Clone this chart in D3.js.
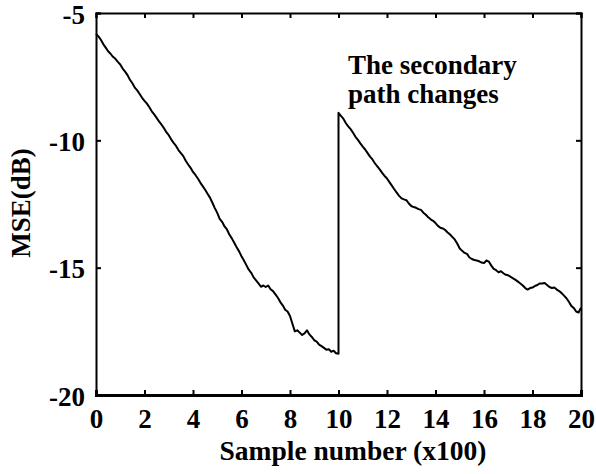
<!DOCTYPE html>
<html>
<head>
<meta charset="utf-8">
<script src="https://cdn.jsdelivr.net/npm/d3@7"></script>
<style>
  html, body { margin: 0; padding: 0; background: #fff; }
  svg { display: block; }
  text { font-family: "Liberation Serif", "Times New Roman", serif; font-weight: bold; fill: #000; }
</style>
</head>
<body>
<svg id="chart" width="596" height="474"></svg>
<script>
// ---- data (sample number in hundreds, MSE in dB) ----
const samples1 = [0.0,0.1,0.2,0.3,0.4,0.5,0.6,0.7,0.8,0.9,1.0,1.1,1.2,1.3,1.4,1.5,1.6,1.7,1.8,1.9,
  2.0,2.1,2.2,2.3,2.4,2.5,2.6,2.7,2.8,2.9,3.0,3.1,3.2,3.3,3.4,3.5,3.6,3.7,3.8,3.9,
  4.0,4.1,4.2,4.3,4.4,4.5,4.6,4.7,4.8,4.9,5.0,5.1,5.2,5.3,5.4,5.5,5.6,5.7,5.8,5.9,
  6.0,6.1,6.2,6.3,6.4,6.5,6.6,6.7,6.8,6.9,7.0,7.1,7.2,7.3,7.4,7.5,7.6,7.7,7.8,7.9,
  8.0,8.1,8.2,8.3,8.4,8.5,8.6,8.7,8.8,8.9,9.0,9.1,9.2,9.3,9.4,9.5,9.6,9.7,9.8,9.9,10.0];
const mse1 = [-5.82,-5.92,-6.05,-6.22,-6.36,-6.50,-6.60,-6.72,-6.80,-6.92,-7.02,-7.18,-7.30,-7.44,-7.62,-7.76,-7.93,-8.04,-8.18,-8.33,
  -8.45,-8.56,-8.70,-8.86,-8.98,-9.12,-9.26,-9.38,-9.52,-9.68,-9.80,-9.96,-10.10,-10.22,-10.38,-10.50,-10.62,-10.80,-10.95,-11.08,
  -11.24,-11.36,-11.50,-11.66,-11.80,-11.94,-12.10,-12.25,-12.45,-12.66,-12.85,-13.08,-13.20,-13.38,-13.50,-13.70,-13.85,-14.02,-14.20,-14.36,
  -14.55,-14.72,-14.90,-15.08,-15.20,-15.38,-15.50,-15.62,-15.75,-15.70,-15.76,-15.70,-15.85,-15.92,-16.05,-16.18,-16.35,-16.48,-16.65,-16.72,
  -16.90,-17.20,-17.50,-17.46,-17.55,-17.64,-17.58,-17.46,-17.62,-17.72,-17.85,-17.90,-18.02,-18.08,-18.15,-18.22,-18.20,-18.30,-18.26,-18.36,-18.38];
const samples2 = [10.0,10.1,10.2,10.3,10.4,10.5,10.6,10.7,10.8,10.9,11.0,11.1,11.2,11.3,11.4,11.5,11.6,11.7,11.8,11.9,
  12.0,12.1,12.2,12.3,12.4,12.5,12.6,12.7,12.8,12.9,13.0,13.1,13.2,13.3,13.4,13.5,13.6,13.7,13.8,13.9,
  14.0,14.1,14.2,14.3,14.4,14.5,14.6,14.7,14.8,14.9,15.0,15.1,15.2,15.3,15.4,15.5,15.6,15.7,15.8,15.9,
  16.0,16.1,16.2,16.3,16.4,16.5,16.6,16.7,16.8,16.9,17.0,17.1,17.2,17.3,17.4,17.5,17.6,17.7,17.8,17.9,
  18.0,18.1,18.2,18.3,18.4,18.5,18.6,18.7,18.8,18.9,19.0,19.1,19.2,19.3,19.4,19.5,19.6,19.7,19.8,19.9,20.0];
const mse2 = [-8.92,-9.04,-9.15,-9.32,-9.45,-9.56,-9.70,-9.86,-9.98,-10.12,-10.25,-10.36,-10.50,-10.64,-10.75,-10.90,-11.02,-11.14,-11.28,-11.40,
  -11.50,-11.64,-11.78,-11.92,-12.05,-12.18,-12.28,-12.32,-12.35,-12.48,-12.58,-12.62,-12.65,-12.70,-12.73,-12.84,-12.92,-13.02,-13.10,-13.16,
  -13.25,-13.36,-13.43,-13.46,-13.52,-13.62,-13.70,-13.80,-13.90,-14.06,-14.25,-14.34,-14.42,-14.46,-14.60,-14.66,-14.70,-14.72,-14.75,-14.80,
  -14.82,-14.72,-14.76,-14.92,-15.05,-15.10,-15.18,-15.14,-15.22,-15.28,-15.30,-15.36,-15.42,-15.48,-15.55,-15.62,-15.70,-15.80,-15.86,-15.80,
  -15.78,-15.72,-15.68,-15.62,-15.62,-15.60,-15.68,-15.76,-15.80,-15.78,-15.86,-15.92,-16.00,-16.10,-16.20,-16.34,-16.50,-16.58,-16.72,-16.76,-16.57];
const xTicks = [0,2,4,6,8,10,12,14,16,18,20];
const yTicks = [-5,-10,-15,-20];
const xTitle = "Sample number (x100)";
const yTitle = "MSE(dB)";
const annotation = ["The secondary", "path changes"];

// ---- layout ----
const svg = d3.select("#chart");
const L = 96, R = 581, T = 13, B = 395;
const x = d3.scaleLinear().domain([0, 20]).range([L, R]);
const y = d3.scaleLinear().domain([-20, -5]).range([B, T]);

const pts = samples1.map((s, i) => [s, mse1[i]]).concat(samples2.map((s, i) => [s, mse2[i]]));

// curve
svg.append("path")
  .datum(pts)
  .attr("fill", "none")
  .attr("stroke", "#000")
  .attr("stroke-width", 2)
  .attr("stroke-linejoin", "round")
  .attr("d", d3.line().x(d => x(d[0])).y(d => y(d[1])));

// axes with inward ticks
const tl = 5;
const fmt = d => String(d);
const axBottom = svg.append("g").attr("transform", `translate(0,${B})`)
  .call(d3.axisBottom(x).tickValues(xTicks).tickSize(-tl).tickPadding(14).tickFormat(fmt));
const axTop = svg.append("g").attr("transform", `translate(0,${T})`)
  .call(d3.axisTop(x).tickValues(xTicks).tickSize(-tl).tickFormat(""));
const axLeft = svg.append("g").attr("transform", `translate(${L},0)`)
  .call(d3.axisLeft(y).tickValues(yTicks).tickSize(-tl).tickPadding(11).tickFormat(fmt));
const axRight = svg.append("g").attr("transform", `translate(${R},0)`)
  .call(d3.axisRight(y).tickValues(yTicks).tickSize(-tl).tickFormat(""));

[axBottom, axTop, axLeft, axRight].forEach(g => {
  g.selectAll("path.domain").attr("stroke", "#000").attr("stroke-width", 2);
  g.selectAll(".tick line").attr("stroke", "#000").attr("stroke-width", 2);
  g.selectAll("text").attr("font-family", "Liberation Serif, serif").attr("font-weight", "bold").attr("font-size", 27).attr("fill", "#000");
});
axBottom.select("path.domain").attr("stroke-width", 3);
axLeft.selectAll("text").attr("dy", "0.38em");

// axis titles
svg.append("text").attr("x", 353).attr("y", 460).attr("text-anchor", "middle")
  .attr("font-size", 27.5).text(xTitle);
svg.append("text").attr("transform", "translate(30,203) rotate(-90)").attr("text-anchor", "middle")
  .attr("font-size", 27).text(yTitle);

// annotation
svg.append("g").selectAll("text").data(annotation).join("text")
  .attr("x", 348).attr("y", (d, i) => 74 + i * 29)
  .attr("font-size", 27).text(d => d);
</script>
</body>
</html>
